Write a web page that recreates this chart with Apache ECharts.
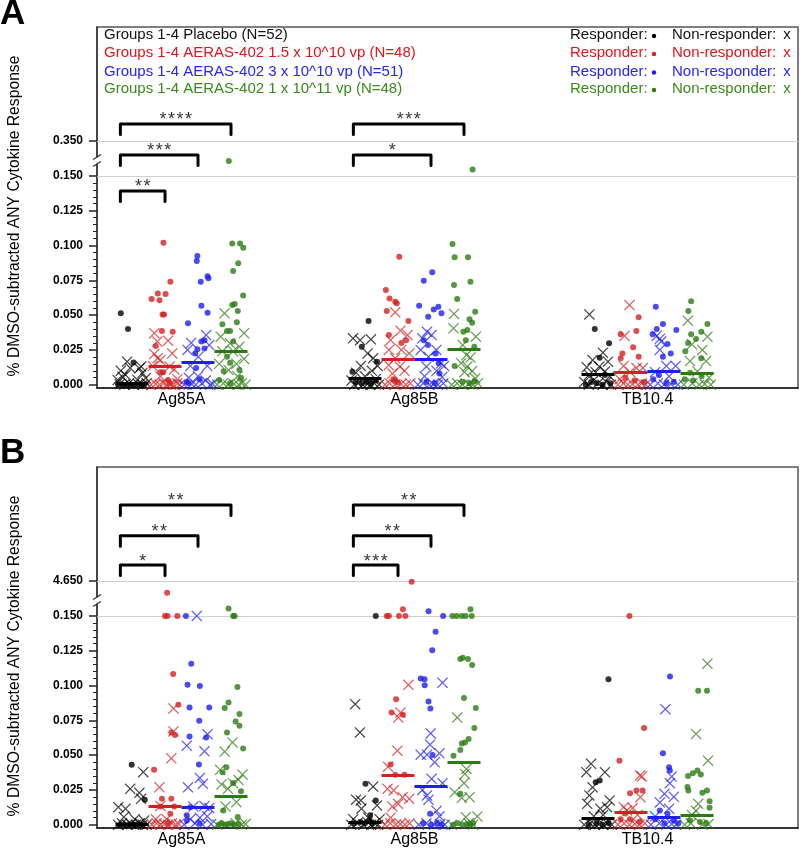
<!DOCTYPE html>
<html><head><meta charset="utf-8">
<script src="https://cdn.jsdelivr.net/npm/echarts@6/dist/echarts.min.js"></script>
<style>html,body{margin:0;padding:0;background:#fff}#c{width:800px;height:849px}</style>
</head><body><div id="c"></div>
<script>
// ---------------- DATA ----------------
const antigens = ['Ag85A', 'Ag85B', 'TB10.4'];
const groupNames = ['Groups 1-4 Placebo (N=52)', 'Groups 1-4 AERAS-402 1.5 x 10^10 vp (N=48)', 'Groups 1-4 AERAS-402 3 x 10^10 vp (N=51)', 'Groups 1-4 AERAS-402 1 x 10^11 vp (N=48)'];
const yTickValues = [0, 0.025, 0.05, 0.075, 0.1, 0.125, 0.15];
const yTickLabels = ['0.000', '0.025', '0.050', '0.075', '0.100', '0.125', '0.150'];
const breakTopA = 0.350, breakTopB = 4.650;
const breakTopLabels = ['0.350', '4.650'];

// points: [jitter (-1..1 within group), value]
// Panel A, Ag85A
const A_85A_0_R = [[-0.73,0.0513],[-0.26,0.040],[0.1,0.016],[-0.9,0],[-0.6,0],[-0.3,0],[-0.1,0],[0.2,0],[0.5,0],[0.8,0]];
const A_85A_0_N = [[-0.73,0.010],[-0.32,0.0165],[-0.12,0.012],[-0.62,0.0057],[0.48,0.0118],[0.67,0.0084],[0.89,0.0048],[0.36,0.0034],[0.59,0.013],[-0.42,0.007],[-0.93,0.0034],[-0.8,0.0005],[-0.5,0],[-0.2,0.001],[0.1,0],[0.4,0.0005],[0.7,0],[0.95,0.001]];
const A_85A_1_R = [[-0.1,0.102],[0.35,0.074],[-0.87,0.0615],[-0.47,0.0656],[-0.36,0.0606],[0.04,0.0651],[-0.16,0.0505],[-0.06,0.0505],[-0.2,0.0386],[0.5,0.038],[-0.6,0.0278],[-0.3,0.009],[-0.12,0.009],[0.2,0.0034],[0.3,0.001]];
const A_85A_1_N = [[-0.7,0.037],[-0.5,0.031],[0.2,0.0316],[-0.7,0.022],[0.47,0.0225],[-0.3,0.0177],[-0.8,0.0134],[0.3,0.013],[-0.48,0.019],[0.6,0.011],[-0.3,0.006],[0.8,0.004],[-0.9,0],[-0.6,0.0005],[-0.35,0],[-0.1,0.001],[0.1,0],[0.35,0.0005],[0.55,0],[0.8,0.001],[0.95,0]];
const A_85A_2_R = [[-0.04,0.0924],[-0.08,0.0888],[0.18,0.074],[0.62,0.078],[0.68,0.0764],[0.22,0.0567],[0.62,0.0517],[-0.65,0.0441],[0.22,0.031],[0.42,0.032],[-0.04,0.0254],[-0.18,0.0225],[0.42,0.026],[-0.12,0.012],[-0.73,0.002],[-0.6,0.001],[0.1,0.004]];
const A_85A_2_N = [[-0.44,0.030],[0.53,0.0357],[-0.68,0.025],[0.73,0.0285],[0.02,0.020],[-0.5,0.0135],[0.6,0.0135],[-0.6,0.005],[0,0.006],[0.5,0.003],[-0.9,0],[-0.4,0.0005],[-0.15,0],[0.25,0.001],[0.8,0],[0.95,0.0005]];
const A_85A_3_R = [[-0.14,0.235],[0.08,0.1015],[0.59,0.1015],[0.8,0.0984],[0.47,0.0872],[0.14,0.0817],[0.79,0.064],[0.08,0.0572],[0.24,0.058],[0.44,0.053],[0.38,0.0448],[-0.56,0.0434],[-0.26,0.0385],[-0.06,0.0385],[0.14,0.031],[-0.26,0.020],[-0.06,0.0157],[-0.47,0.0097],[0.55,0.0106],[0.65,0.005],[-0.77,0.0034],[-0.06,0.001]];
const A_85A_3_N = [[-0.42,0.0513],[0.85,0.037],[-0.67,0.0345],[-0.06,0.0297],[0.55,0.0273],[-0.56,0.024],[0.14,0.024],[0.85,0.0185],[-0.77,0.015],[0.35,0.015],[-0.16,0.0105],[0.42,0.006],[-0.9,0],[-0.5,0.001],[-0.2,0],[0.2,0.0005],[0.5,0],[0.7,0.001],[0.95,0]];
// Panel A, Ag85B
const A_85B_0_R = [[0.23,0.0457],[-0.21,0.0273],[0.78,0.0165],[-0.82,0.0093],[-0.6,0.002],[-0.2,0.001],[0.1,0.002],[0.4,0.001],[0.7,0.003]];
const A_85B_0_N = [[-0.78,0.0333],[-0.32,0.032],[0.38,0.0326],[0.17,0.0225],[0.53,0.019],[-0.27,0.0135],[0.82,0.0135],[-0.58,0.0085],[0.45,0.010],[0,0.006],[-0.88,0.003],[0.7,0.004],[-0.7,0],[-0.45,0.001],[-0.15,0],[0.15,0.0005],[0.35,0],[0.6,0.001],[0.9,0]];
const A_85B_1_R = [[0.08,0.092],[-0.79,0.068],[-0.55,0.062],[-0.18,0.0596],[-0.08,0.0585],[-0.73,0.053],[0.68,0.0457],[0.22,0.030],[0.53,0.032],[-0.59,0.0357],[-0.3,0.004],[-0.18,0.003],[0,0.0015]];
const A_85B_1_N = [[-0.18,0.052],[0.16,0.0388],[-0.48,0.032],[0.62,0.0357],[-0.59,0.025],[0.22,0.025],[0.73,0.0225],[-0.18,0.019],[-0.6,0.014],[0.12,0.013],[0.42,0.010],[-0.36,0.008],[-0.85,0],[-0.55,0.001],[-0.2,0],[0.2,0.0005],[0.5,0],[0.8,0.001]];
const A_85B_2_R = [[0.08,0.0807],[-0.47,0.0747],[-0.77,0.0567],[0.18,0.054],[0.48,0.056],[0.68,0.0513],[-0.18,0.0488],[-0.47,0.032],[-0.2,0.0285],[0.3,0.0225],[0.5,0.0154],[0.55,0.008],[-0.3,0.002],[0.25,0.001]];
const A_85B_2_N = [[-0.26,0.038],[-0.56,0.0333],[0.04,0.0357],[-0.67,0.025],[0.35,0.025],[-0.16,0.020],[0.65,0.0154],[-0.3,0.013],[0.85,0.0135],[0.36,0.010],[0.73,0.0055],[-0.42,0.006],[-0.85,0],[-0.5,0.001],[-0.1,0],[0.15,0.0005],[0.45,0],[0.8,0.001]];
const A_85B_3_R = [[0.56,0.187],[-0.75,0.101],[-0.61,0.0915],[0.26,0.0915],[0.42,0.074],[-0.65,0.0716],[-0.44,0.0615],[0.73,0.0524],[0.36,0.047],[0.53,0.0445],[0.22,0.0393],[-0.04,0.038],[0.12,0.032],[0.67,0.0273],[-0.61,0.0134],[0.36,0.001],[-0.1,0.002],[0.7,0.0025]];
const A_85B_3_N = [[-0.65,0.0508],[-0.68,0.0405],[0.77,0.0345],[-0.08,0.0285],[0.16,0.0213],[0.42,0.0195],[-0.18,0.0155],[0.22,0.013],[0.53,0.0098],[0.03,0.009],[0.73,0.0045],[-0.8,0],[-0.45,0.001],[-0.1,0],[0.3,0.0005],[0.6,0],[0.9,0.001]];
// Panel A, TB10.4
const A_TB_0_R = [[-0.21,0.040],[0.72,0.0297],[0.11,0.0194],[0.45,0.007],[-0.45,0.002],[-0.8,0],[-0.1,0.001],[0.3,0],[0.8,0.001]];
const A_TB_0_N = [[-0.56,0.0505],[0.32,0.023],[-0.35,0.0177],[0.65,0.0165],[-0.73,0.0125],[0.09,0.013],[-0.15,0.009],[0.45,0.0095],[-0.58,0.007],[0.76,0.006],[-0.9,0.002],[-0.6,0],[-0.3,0.003],[0,0.001],[0.3,0],[0.55,0.002],[0.85,0]];
const A_TB_1_R = [[0.5,0.0484],[0.35,0.0386],[-0.67,0.0362],[0.14,0.0269],[0.5,0.020],[-0.56,0.0225],[-0.67,0.019],[-0.36,0.005],[0.24,0.003],[0.85,0.002]];
const A_TB_1_N = [[-0.1,0.0572],[-0.42,0.035],[-0.48,0.0135],[0.36,0.012],[0.77,0.012],[-0.06,0.009],[-0.73,0.004],[-0.85,0],[-0.5,0.001],[-0.2,0],[0.1,0.0005],[0.45,0],[0.7,0.001],[0.95,0]];
const A_TB_2_R = [[-0.53,0.056],[-0.07,0.0436],[-0.47,0.040],[0.8,0.0393],[-0.74,0.0362],[0.23,0.0292],[0.44,0.0225],[-0.07,0.020],[-0.7,0.004],[0.15,0.001],[0.64,0.002],[-0.33,0.007]];
const A_TB_2_N = [[-0.47,0.035],[-0.18,0.031],[-0.27,0.033],[-0.27,0.025],[0.15,0.0135],[0.76,0.0135],[-0.58,0.009],[0.33,0.006],[-0.9,0],[-0.4,0.001],[0,0],[0.45,0.0005],[0.9,0]];
const A_TB_3_R = [[-0.38,0.060],[-0.56,0.053],[0.68,0.0436],[0.28,0.038],[-0.38,0.0362],[-0.06,0.0328],[-0.58,0.030],[-0.76,0.024],[0.28,0.019],[-0.8,0.004],[-0.25,0.003],[0.3,0.006],[-0.45,0.0085]];
const A_TB_3_N = [[-0.59,0.046],[0.68,0.0345],[-0.33,0.029],[0.35,0.025],[-0.45,0.017],[0.59,0.017],[0.03,0.0095],[0.79,0.005],[-0.85,0],[-0.3,0.001],[0.15,0],[0.5,0.0005],[0.9,0]];
// Panel B, Ag85A
const B_85A_0_R = [[-0.02,0.043],[0.83,0.018],[-0.8,0],[-0.5,0],[-0.2,0],[0.1,0],[0.3,0],[0.6,0]];
const B_85A_0_N = [[0.73,0.0377],[-0.12,0.0258],[0.48,0.0229],[0.59,0.0186],[-0.89,0.0126],[-0.42,0.0115],[-0.53,0.0055],[0.18,0.004],[0.79,0.003],[-0.9,0],[-0.65,0.001],[-0.3,0],[-0.05,0.0005],[0.25,0],[0.5,0.001],[0.7,0],[0.95,0]];
const B_85A_1_R = [[0.14,3.15],[0,0.150],[0.16,0.150],[0.8,0.150],[0.53,0.1083],[0.87,0.0861],[0.41,0.0663],[0.65,0.0644],[-0.71,0.0394],[-0.2,0.0186],[0.41,0.0186],[0.35,0.0079],[-0.3,0.013],[0.6,0.013],[0.2,0.001]];
const B_85A_1_N = [[0.55,0.0835],[0.55,0.067],[0.41,0.0477],[-0.36,0.0269],[-0.6,0.004],[0.1,0.004],[-0.3,0.0135],[-0.85,0],[-0.55,0.001],[-0.3,0],[-0.05,0.0005],[0.2,0],[0.45,0.001],[0.7,0],[0.9,0.0005]];
const B_85A_2_R = [[-0.79,0.150],[-0.44,0.1157],[-0.68,0.1005],[0.12,0.0997],[-0.55,0.0842],[0.73,0.0842],[0.08,0.0747],[-0.55,0.0634],[0.53,0.0627],[0.06,0.0432],[-0.73,0.0067],[-0.73,0.003],[0.1,0.001],[-0.5,0.0125]];
const B_85A_2_N = [[-0.08,0.150],[0.62,0.065],[-0.73,0.0568],[0.42,0.0527],[0.12,0.0336],[0.32,0.0294],[-0.65,0.0269],[-0.3,0.013],[0.42,0.0135],[0.73,0.012],[-0.5,0.004],[0.12,0.005],[0.6,0.006],[-0.9,0],[-0.2,0.001],[0.3,0],[0.85,0.0005]];
const B_85A_3_R = [[-0.16,1.1],[0.14,0.150],[0.24,0.151],[0.42,0.099],[-0.16,0.0878],[-0.41,0.0838],[0.55,0.0795],[0.3,0.0742],[0.55,0.0711],[-0.26,0.0663],[0.79,0.0548],[-0.3,0.0412],[-0.55,0.0377],[0.14,0.030],[0.65,0.024],[-0.5,0.0102],[0.44,0.0055],[-0.8,0],[-0.6,0.001],[-0.4,0],[-0.2,0.0005],[0,0.001],[0.2,0],[0.5,0.0005]];
const B_85A_3_N = [[0.1,0.0591],[-0.41,0.0525],[-0.71,0.0394],[0.75,0.036],[0.48,0.0322],[-0.62,0.0289],[0.14,0.0298],[-0.2,0.0258],[0.35,0.0162],[-0.36,0.0131],[-0.9,0],[0.3,0.001],[0.7,0],[0.95,0.0005]];
// Panel B, Ag85B
const B_85B_0_R = [[0.7,0.150],[0.03,0.0294],[0.7,0.0174],[0.33,0.0067],[-0.7,0.001],[-0.3,0.002],[0,0.001],[0.3,0.003],[0.5,0.001]];
const B_85B_0_N = [[-0.64,0.0866],[-0.33,0.0663],[0.53,0.0274],[-0.58,0.018],[-0.27,0.0174],[-0.23,0.0115],[0.78,0.0138],[-0.76,0.004],[0.2,0.005],[0.95,0.004],[-0.9,0],[-0.5,0.001],[-0.1,0],[0.15,0.002],[0.4,0],[0.65,0.001],[0.85,0]];
const B_85B_1_R = [[0.89,4.58],[-0.73,0.150],[-0.59,0.150],[0.06,0.1503],[0.32,1.0],[0.48,0.150],[-0.12,0.0902],[-0.42,0.0806],[0.32,0.079],[-0.48,0.0432],[0.42,0.0358],[-0.18,0.0358]];
const B_85B_1_N = [[0.68,0.1005],[0.16,0.0806],[0.02,0.077],[-0.04,0.0532],[-0.65,0.0417],[-0.68,0.0258],[-0.28,0.0246],[0.3,0.0198],[0.73,0.0186],[-0.36,0.013],[0,0.015],[-0.48,0.005],[-0.85,0],[-0.5,0.001],[-0.15,0],[0.15,0.0005],[0.45,0],[0.75,0.001]];
const B_85B_2_R = [[-0.16,0.75],[0.79,0.150],[0.3,0.1386],[0.08,0.1253],[-0.67,0.105],[-0.42,0.1045],[-0.41,0.1002],[-0.16,0.0885],[-0.04,0.0835],[0.1,0.0501],[-0.06,0.0079],[-0.5,0.001],[0,0],[0.4,0.001],[0.7,0]];
const B_85B_2_N = [[0.75,0.102],[-0.02,0.0656],[-0.06,0.0575],[-0.67,0.0503],[-0.26,0.0503],[0.55,0.0513],[0.24,0.0448],[0.04,0.033],[0.75,0.0298],[-0.56,0.025],[-0.26,0.021],[-0.16,0.018],[0.36,0.010],[0.55,0.006],[-0.8,0],[-0.3,0.001],[0.2,0],[0.6,0.0005],[0.9,0]];
const B_85B_3_R = [[-0.75,0.150],[-0.48,0.150],[-0.14,0.150],[0.1,0.150],[0.42,1.0],[0.5,0.150],[-0.24,0.119],[-0.08,0.12],[0.26,0.119],[0.53,0.1148],[0,0.091],[0.77,0.0838],[0.67,0.0695],[0.3,0.0616],[-0.14,0.0584],[0.06,0.0591],[-0.24,0.0537],[-0.68,0.0496],[-0.24,0.0222],[-0.7,0],[-0.4,0.001],[-0.1,0],[0.2,0.0005],[0.4,0],[0.6,0.001]];
const B_85B_3_N = [[-0.44,0.077],[0.16,0.040],[0.06,0.0365],[0,0.0298],[-0.61,0.0233],[-0.14,0.0193],[0.36,0.0198],[0.12,0.0054],[0.87,0.0059],[-0.8,0],[0.3,0.001],[0.6,0]];
// Panel B, TB10.4
const B_TB_0_R = [[0.68,0.1045],[0.11,0.0317],[-0.15,0.0305],[-0.6,0],[-0.1,0.001],[0.3,0],[0.7,0.001]];
const B_TB_0_N = [[-0.45,0.0437],[-0.76,0.0377],[0.45,0.0377],[-0.35,0.0269],[-0.56,0.021],[-0.7,0.015],[0.76,0.0174],[0.15,0.0115],[0.59,0.0126],[-0.27,0.006],[0.33,0.007],[-0.9,0],[-0.5,0.001],[-0.2,0],[0.05,0.0005],[0.35,0],[0.6,0.001],[0.9,0]];
const B_TB_1_R = [[-0.1,0.150],[0.85,0.0694],[-0.75,0.046],[-0.06,0.0226],[0.35,0.0246],[0.75,0.0246],[-0.67,0.004],[-0.06,0.004],[0.55,0.002],[-0.36,0.008]];
const B_TB_1_N = [[0.71,0.0346],[0.59,0.0353],[0.61,0.0198],[-0.47,0.0126],[-0.26,0.0102],[0.12,0.012],[0.42,0.007],[-0.85,0],[-0.45,0.001],[-0.1,0],[0.25,0.0005],[0.55,0],[0.9,0.001]];
const B_TB_2_R = [[0.39,0.1064],[-0.07,0.0513],[0.33,0.0412],[0.38,0.0389],[-0.27,0.0102],[0.23,0.0079],[-0.58,0.004],[0.64,0.003],[0.03,0.001],[0.94,0.001]];
const B_TB_2_N = [[0.09,0.083],[0.5,0.0346],[0.38,0.0298],[0.03,0.0222],[0.64,0.020],[-0.27,0.016],[0.33,0.0115],[-0.58,0.006],[-0.85,0],[-0.3,0.001],[0.15,0],[0.5,0.0005],[0.8,0]];
const B_TB_3_R = [[0.08,0.0962],[0.65,0.0962],[-0.58,0.035],[-0.27,0.037],[0.03,0.039],[0.25,0.036],[-0.62,0.027],[-0.56,0.0246],[0.35,0.023],[0.65,0.0246],[0.82,0.0169],[0.82,0.0122],[-0.45,0.003],[0.2,0.002],[0.6,0.001]];
const B_TB_3_N = [[0.68,0.1157],[-0.06,0.0652],[0.72,0.046],[0.08,0.015],[-0.06,0.010],[-0.33,0.007],[-0.8,0],[-0.4,0.001],[0.35,0],[0.75,0.0005]];

// medians per antigen, groups 0..3
const A_median_85A = [0.001, 0.0134, 0.0158, 0.0237];
const A_median_85B = [0.0043, 0.0182, 0.0182, 0.0254];
const A_median_TB  = [0.0077, 0.0093, 0.0098, 0.0082];
const B_median_85A = [0.0005, 0.0131, 0.0126, 0.0203];
const B_median_85B = [0.0019, 0.0358, 0.0279, 0.0446];
const B_median_TB  = [0.0043, 0.0086, 0.0055, 0.0067];

// significance brackets: [antigen index, compared group, stars]
const A_brackets = [[0,1,'**'],[0,2,'***'],[0,3,'****'],[1,2,'*'],[1,3,'***']];
const B_brackets = [[0,1,'*'],[0,2,'**'],[0,3,'**'],[1,1,'***'],[1,2,'**'],[1,3,'**']];
const A_bracketLevels = [0.1392, 0.1650, 0.1873];
const B_bracketLevels = [0.1865, 0.2075, 0.2297];

// ---------------- CHART ----------------
const FONT = '"Liberation Sans", Arial, sans-serif';
const colors = ['#000000', '#d42020', '#1e1ef2', '#2c7a12'];
const textColors = ['#111111', '#e3141c', '#2424ff', '#3b8a1c'];
const GROUP_STEP = 0.1416, JIT = 0.066, HALF = 0.0708, LEG = 0.0075, SEG = 0.025;
const XMIN = -0.3627, XMAX = 2.646, YMIN = -0.00237, YMAX = 0.25697;
const XPATH = 'path://M0,0.8L0.8,0L5,4.2L9.2,0L10,0.8L5.8,5L10,9.2L9.2,10L5,5.8L0.8,10L0,9.2L4.2,5Z';
function disp(v, top) { return v <= 0.15 ? v : 0.15 + (v - 0.15) / (top - 0.15) * SEG; }
const spaced = s => s.split('').join('\u200A');

const panels = [
  { top: breakTopA, gridTop: 27, levels: A_bracketLevels, brackets: A_brackets,
    resp: [[A_85A_0_R, A_85A_1_R, A_85A_2_R, A_85A_3_R], [A_85B_0_R, A_85B_1_R, A_85B_2_R, A_85B_3_R], [A_TB_0_R, A_TB_1_R, A_TB_2_R, A_TB_3_R]],
    non:  [[A_85A_0_N, A_85A_1_N, A_85A_2_N, A_85A_3_N], [A_85B_0_N, A_85B_1_N, A_85B_2_N, A_85B_3_N], [A_TB_0_N, A_TB_1_N, A_TB_2_N, A_TB_3_N]],
    med: [A_median_85A, A_median_85B, A_median_TB] },
  { top: breakTopB, gridTop: 467, levels: B_bracketLevels, brackets: B_brackets,
    resp: [[B_85A_0_R, B_85A_1_R, B_85A_2_R, B_85A_3_R], [B_85B_0_R, B_85B_1_R, B_85B_2_R, B_85B_3_R], [B_TB_0_R, B_TB_1_R, B_TB_2_R, B_TB_3_R]],
    non:  [[B_85A_0_N, B_85A_1_N, B_85A_2_N, B_85A_3_N], [B_85B_0_N, B_85B_1_N, B_85B_2_N, B_85B_3_N], [B_TB_0_N, B_TB_1_N, B_TB_2_N, B_TB_3_N]],
    med: [B_median_85A, B_median_85B, B_median_TB] }
];

const grids = [], xAxes = [], yAxes = [], series = [];
const majorVals = yTickValues.concat([0.15 + SEG]);
const minorVals = [];
for (let i = 0; i < 30; i++) { if (i % 5 !== 0) minorVals.push(i * 0.005); }

panels.forEach((P, p) => {
  grids.push({ left: 97, width: 701, top: P.gridTop, height: 361, show: true, borderColor: '#555', borderWidth: 1.5, backgroundColor: 'transparent' });
  xAxes.push({ type: 'value', gridIndex: p, min: XMIN, max: XMAX,
    axisLine: { show: true, onZero: false, lineStyle: { color: '#333', width: 2 } },
    axisTick: { show: false }, splitLine: { show: false },
    axisLabel: { customValues: [0, 1, 2], formatter: v => antigens[Math.round(v)], fontSize: 16, color: '#000', fontFamily: FONT, margin: 4 } });
  yAxes.push({ type: 'value', gridIndex: p, min: YMIN, max: YMAX, position: 'left',
    axisLine: { show: true, onZero: false, lineStyle: { color: '#333', width: 1.5 } },
    axisTick: { show: true, customValues: majorVals, length: 8, lineStyle: { color: '#222', width: 1.5 } },
    axisLabel: { customValues: majorVals, formatter: v => v > 0.16 ? breakTopLabels[p] : yTickLabels[Math.round(v / 0.025)], fontSize: 12, fontWeight: 'bold', color: '#000', fontFamily: FONT, margin: 14 },
    splitLine: { show: false } });
  yAxes.push({ type: 'value', gridIndex: p, min: YMIN, max: YMAX, position: 'left', offset: 0,
    axisLine: { show: false, onZero: false }, axisLabel: { show: false }, splitLine: { show: false },
    axisTick: { show: true, customValues: minorVals, length: 4, lineStyle: { color: '#222', width: 1 } } });
  const xi = p, yi = 2 * p;
  // reference lines at the break edges
  series.push({ type: 'lines', coordinateSystem: 'cartesian2d', xAxisIndex: xi, yAxisIndex: yi, silent: true, z: 1,
    data: [{ coords: [[XMIN, 0.15], [XMAX, 0.15]] }, { coords: [[XMIN, 0.15 + SEG], [XMAX, 0.15 + SEG]] }],
    lineStyle: { color: '#cfcfcf', width: 1.2, opacity: 1 } });
  for (let g = 0; g < 4; g++) {
    const off = (g - 1.5) * GROUP_STEP;
    const rd = [], nd = [];
    for (let a = 0; a < 3; a++) {
      P.resp[a][g].forEach(([j, v]) => rd.push([a + off + j * JIT, disp(v, P.top)]));
      P.non[a][g].forEach(([j, v]) => nd.push([a + off + j * JIT, disp(v, P.top)]));
    }
    series.push({ type: 'scatter', xAxisIndex: xi, yAxisIndex: yi, data: nd, symbol: XPATH, symbolSize: 11,
      itemStyle: { color: colors[g], opacity: 0.72 }, z: 3, silent: true, clip: false });
    series.push({ type: 'scatter', xAxisIndex: xi, yAxisIndex: yi, data: rd, symbol: 'circle', symbolSize: 6,
      itemStyle: { color: colors[g] }, z: 4, silent: true, clip: false });
  }
  const md = [];
  for (let a = 0; a < 3; a++) for (let g = 0; g < 4; g++) {
    const cx = a + (g - 1.5) * GROUP_STEP, m = P.med[a][g];
    md.push({ coords: [[cx - HALF, m], [cx + HALF, m]], lineStyle: { color: colors[g] } });
  }
  series.push({ type: 'lines', coordinateSystem: 'cartesian2d', xAxisIndex: xi, yAxisIndex: yi, data: md,
    lineStyle: { width: 3, opacity: 1 }, z: 5, silent: true });
  const bd = [], ld = [];
  P.brackets.forEach(([a, to, lab]) => {
    const x1 = a - 1.5 * GROUP_STEP - 0.05, x2 = a + (to - 1.5) * GROUP_STEP;
    const yt = P.levels[to - 1], yl = yt - LEG;
    bd.push({ coords: [[x1, yl], [x1, yt], [x2, yt], [x2, yl]] });
    ld.push({ value: [(x1 + x2) / 2, yt], name: spaced(lab) });
  });
  series.push({ type: 'lines', coordinateSystem: 'cartesian2d', polyline: true, xAxisIndex: xi, yAxisIndex: yi, data: bd,
    lineStyle: { color: '#000', width: 3, opacity: 1, join: 'round', cap: 'round' }, z: 6, silent: true });
  series.push({ type: 'scatter', xAxisIndex: xi, yAxisIndex: yi, data: ld, symbolSize: 1, itemStyle: { color: 'rgba(0,0,0,0)' },
    label: { show: true, formatter: '{b}', position: 'top', distance: -6, fontSize: 18, color: '#000', fontFamily: FONT },
    z: 6, silent: true });
});

const chart = echarts.init(document.getElementById('c'), null, { renderer: 'canvas' });
const graphics = [];
const tf = (size, bold) => (bold ? 'bold ' : '') + size + 'px ' + FONT;
graphics.push({ type: 'text', x: 0, y: 14, style: { text: 'A', font: tf(35, true), fill: '#000', textVerticalAlign: 'middle' } });
graphics.push({ type: 'text', x: 0, y: 453, style: { text: 'B', font: tf(35, true), fill: '#000', textVerticalAlign: 'middle' } });
[216, 656].forEach(cy => graphics.push({ type: 'text', x: 15, y: cy, rotation: Math.PI / 2,
  style: { text: '% DMSO-subtracted ANY Cytokine Response', font: tf(15.7), fill: '#000', textAlign: 'center', textVerticalAlign: 'middle' } }));
const legY = [35, 53, 71.5, 89];
groupNames.forEach((n, g) => {
  graphics.push({ type: 'text', x: 104, y: legY[g], style: { text: n, font: tf(15), fill: textColors[g], textVerticalAlign: 'middle' } });
  graphics.push({ type: 'text', x: 570, y: legY[g], style: { text: 'Responder:', font: tf(15), fill: textColors[g], textVerticalAlign: 'middle' } });
  graphics.push({ type: 'circle', shape: { cx: 654, cy: legY[g] + 1, r: 2.2 }, style: { fill: colors[g] } });
  graphics.push({ type: 'text', x: 672, y: legY[g], style: { text: 'Non-responder:', font: tf(15), fill: textColors[g], textVerticalAlign: 'middle' } });
  graphics.push({ type: 'text', x: 787, y: legY[g], style: { text: 'x', font: tf(15), fill: textColors[g], textAlign: 'center', textVerticalAlign: 'middle' } });
});

chart.setOption({ animation: false, backgroundColor: '#fff', grid: grids, xAxis: xAxes, yAxis: yAxes, series: series, graphic: graphics });

// axis break marks
panels.forEach((P, p) => {
  const pt = chart.convertToPixel({ xAxisIndex: p, yAxisIndex: 2 * p }, [XMIN, 0.161]);
  const ax = pt[0], py = pt[1];
  graphics.push({ type: 'rect', shape: { x: ax - 5, y: py - 3, width: 10, height: 6 }, style: { fill: '#fff' }, z: 100 });
  graphics.push({ type: 'line', shape: { x1: ax - 4, y1: py - 1, x2: ax + 4, y2: py - 6 }, style: { stroke: '#333', lineWidth: 1.2 }, z: 101 });
  graphics.push({ type: 'line', shape: { x1: ax - 4, y1: py + 6, x2: ax + 4, y2: py + 1 }, style: { stroke: '#333', lineWidth: 1.2 }, z: 101 });
});
chart.setOption({ graphic: graphics });
</script>
</body></html>
